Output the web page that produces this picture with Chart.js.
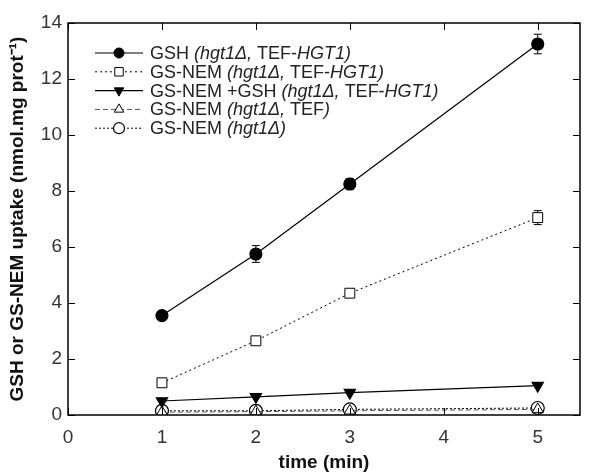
<!DOCTYPE html>
<html>
<head>
<meta charset="utf-8">
<script src="https://cdn.jsdelivr.net/npm/chart.js@4/dist/chart.umd.min.js"></script>
<style>
  html, body { margin: 0; padding: 0; background: #fff; }
  #wrap { width: 597px; height: 475px; }
</style>
</head>
<body>
<div id="wrap"><canvas id="chart" width="597" height="475"></canvas></div>
<script>
// time points (min)
var times = [1, 2, 3, 5];

// uptake values, nmol.mg prot-1
var gshHgt1 = [3.55, 5.75, 8.25, 13.25];
var gsnemHgt1 = [1.15, 2.65, 4.35, 7.05];
var gsnemGshHgt1 = [0.5, 0.65, 0.8, 1.05];
var gsnemTef = [0.1, 0.12, 0.15, 0.2];
var gsnemNull = [0.15, 0.15, 0.2, 0.25];

// error bars (+/-)
var gshErr = [0.1, 0.3, 0.2, 0.35];
var gsnemErr = [0.08, 0.1, 0.1, 0.25];

var xTicks = [0, 1, 2, 3, 4, 5];
var yTicks = [0, 2, 4, 6, 8, 10, 12, 14];

// legend text pieces: [text, italic]
var legendLabels = [
    [["GSH ", false], ["(hgt1\u0394, ", true], ["TEF-", false], ["HGT1)", true]],
    [["GS-NEM ", false], ["(hgt1\u0394, ", true], ["TEF-", false], ["HGT1)", true]],
    [["GS-NEM +GSH ", false], ["(hgt1\u0394, ", true], ["TEF-", false], ["HGT1)", true]],
    [["GS-NEM ", false], ["(hgt1\u0394, ", true], ["TEF", false], [")", true]],
    [["GS-NEM ", false], ["(hgt1\u0394)", true]]
];

var FONT = '"Liberation Sans", Arial, sans-serif';

function pts(ys) {
    return times.map((t, i) => ({ x: t, y: ys[i] }));
}

var datasets = [
    { data: pts(gshHgt1), borderColor: '#000', borderWidth: 1.2, borderDash: [],
      pointStyle: 'circle', pointRadius: 6, pointBackgroundColor: '#000', pointBorderColor: '#000', err: gshErr },
    { data: pts(gsnemHgt1), borderColor: '#000', borderWidth: 1, borderDash: [2, 3],
      pointStyle: 'rect', pointRadius: 7, pointBackgroundColor: '#fff', pointBorderColor: '#000', pointBorderWidth: 1, err: gsnemErr },
    { data: pts(gsnemGshHgt1), borderColor: '#000', borderWidth: 1.2, borderDash: [],
      pointStyle: 'triangle', pointRotation: 180, pointRadius: 6.5, pointBackgroundColor: '#000', pointBorderColor: '#000' },
    { data: pts(gsnemTef), borderColor: '#555', borderWidth: 1, borderDash: [5, 3],
      pointStyle: 'triangle', pointRadius: 6.5, pointBackgroundColor: '#fff', pointBorderColor: '#000', pointBorderWidth: 1 },
    { data: pts(gsnemNull), borderColor: '#000', borderWidth: 1, borderDash: [2, 2],
      pointStyle: 'circle', pointRadius: 6.5, pointBackgroundColor: '#fff', pointBorderColor: '#000', pointBorderWidth: 1.2 }
];
datasets.forEach(d => { d.fill = false; d.tension = 0; d.showLine = true; });

var framePlugin = {
    id: 'frame',
    beforeDatasetsDraw(chart) {
        // error bars go under the markers
        var ctx = chart.ctx;
        var xs = chart.scales.x, ys = chart.scales.y;
        ctx.save();
        ctx.strokeStyle = '#000';
        ctx.lineWidth = 1;
        chart.data.datasets.forEach(d => {
            if (!d.err) return;
            d.data.forEach((p, i) => {
                var px = xs.getPixelForValue(p.x);
                var y1 = ys.getPixelForValue(p.y + d.err[i]);
                var y2 = ys.getPixelForValue(p.y - d.err[i]);
                ctx.beginPath();
                ctx.moveTo(px, y1); ctx.lineTo(px, y2);
                ctx.moveTo(px - 4, y1); ctx.lineTo(px + 4, y1);
                ctx.moveTo(px - 4, y2); ctx.lineTo(px + 4, y2);
                ctx.stroke();
            });
        });
        ctx.restore();
    },
    afterDatasetsDraw(chart) {
        var ctx = chart.ctx, a = chart.chartArea;
        var xs = chart.scales.x, ys = chart.scales.y;
        ctx.save();
        // frame
        ctx.strokeStyle = '#000';
        ctx.lineWidth = 1.5;
        ctx.strokeRect(a.left, a.top, a.right - a.left, a.bottom - a.top);
        // inward ticks on all sides
        ctx.lineWidth = 1;
        ctx.beginPath();
        xTicks.forEach(v => {
            var px = Math.round(xs.getPixelForValue(v)) + 0.5;
            ctx.moveTo(px, a.bottom); ctx.lineTo(px, a.bottom - 7);
            ctx.moveTo(px, a.top); ctx.lineTo(px, a.top + 7);
        });
        yTicks.forEach(v => {
            var py = Math.round(ys.getPixelForValue(v)) + 0.5;
            ctx.moveTo(a.left, py); ctx.lineTo(a.left + 7, py);
            ctx.moveTo(a.right, py); ctx.lineTo(a.right - 7, py);
        });
        ctx.stroke();
        // legend
        var lx = 95, ly = 53, step = 18.8;
        ctx.textBaseline = 'middle';
        chart.data.datasets.forEach((d, i) => {
            var y = ly + i * step;
            ctx.strokeStyle = d.borderColor;
            ctx.lineWidth = d.borderWidth;
            ctx.setLineDash(d.borderDash);
            ctx.beginPath();
            ctx.moveTo(lx, y); ctx.lineTo(lx + 48, y);
            ctx.stroke();
            ctx.setLineDash([]);
            ctx.fillStyle = d.pointBackgroundColor;
            ctx.strokeStyle = d.pointBorderColor;
            ctx.lineWidth = d.pointBorderWidth || 1;
            Chart.helpers.drawPoint(ctx, {
                pointStyle: d.pointStyle, radius: d.pointRadius - 1,
                rotation: d.pointRotation || 0, borderWidth: d.pointBorderWidth || 1
            }, lx + 24, y);
            var tx = lx + 55;
            ctx.fillStyle = '#222';
            legendLabels[i].forEach(seg => {
                ctx.font = (seg[1] ? 'italic ' : '') + '18px ' + FONT;
                ctx.fillText(seg[0], tx, y + 1);
                tx += ctx.measureText(seg[0]).width;
            });
        });
        ctx.restore();
    }
};

new Chart(document.getElementById('chart').getContext('2d'), {
    type: 'line',
    data: { datasets: datasets },
    options: {
        responsive: false,
        animation: false,
        layout: { padding: { top: 23, right: 17, left: 0, bottom: 0 } },
        plugins: { legend: { display: false }, tooltip: { enabled: false } },
        scales: {
            x: {
                type: 'linear', min: 0, max: 5.45,
                afterBuildTicks: s => { s.ticks = xTicks.map(v => ({ value: v })); },
                afterFit: s => { s.height = 60; },
                grid: { display: false, drawTicks: false },
                border: { display: false },
                ticks: { color: '#333', padding: 11, font: { size: 19, family: FONT } },
                title: { display: true, text: 'time (min)', color: '#111', padding: { top: 0, bottom: 1 },
                         font: { size: 19, weight: 'bold', family: FONT } }
            },
            y: {
                type: 'linear', min: 0, max: 14,
                afterBuildTicks: s => { s.ticks = yTicks.map(v => ({ value: v })); },
                afterFit: s => { s.width = 68; },
                grid: { display: false, drawTicks: false },
                border: { display: false },
                ticks: { color: '#333', padding: 6, font: { size: 19, family: FONT } },
                title: { display: true, text: 'GSH or GS-NEM uptake (nmol.mg prot\u207B\u00B9)', color: '#111', padding: { top: 6, bottom: 2 },
                         font: { size: 19, weight: 'bold', family: FONT } }
            }
        }
    },
    plugins: [framePlugin]
});
</script>
</body>
</html>
